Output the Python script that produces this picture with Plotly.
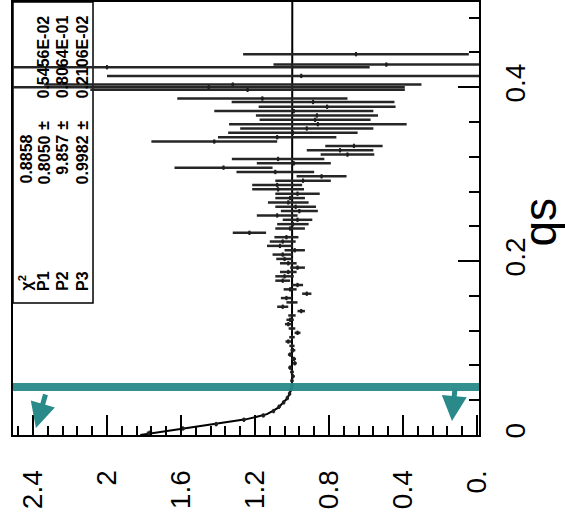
import plotly.graph_objects as go

# ---- data ----
qs = [0.438, 0.426, 0.423, 0.413, 0.403, 0.400, 0.397, 0.387, 0.383, 0.3775,
      0.3725, 0.3675, 0.3625, 0.3575, 0.3525, 0.3475, 0.3425, 0.3375, 0.3325, 0.3275,
      0.3225, 0.3175, 0.3125, 0.3075, 0.3025, 0.2975, 0.2925, 0.2875, 0.2825, 0.2775,
      0.2725, 0.2675, 0.2625, 0.2575, 0.2525, 0.2475, 0.2425, 0.2375, 0.2325, 0.2275,
      0.2225, 0.2175, 0.2125, 0.2075, 0.2025, 0.1975, 0.1925, 0.1875, 0.1825, 0.1775,
      0.1725, 0.1675, 0.1625, 0.1575, 0.1525, 0.1475, 0.1425, 0.1375, 0.1325, 0.1275,
      0.1225, 0.1175, 0.1125, 0.1075, 0.1025, 0.0975, 0.0925, 0.0875, 0.0825, 0.0775,
      0.0725, 0.0675, 0.0625, 0.0575, 0.0525, 0.0475, 0.0425, 0.0375, 0.0325, 0.0275,
      0.0225, 0.0175, 0.0125, 0.0075, 0.0025]
ratio = [0.654, 0.49, 2.00, 0.95, 1.32, 1.45, 1.24, 1.16, 0.886, 0.81,
         0.99, 0.865, 0.875, 0.86, 0.92, 0.995, 1.08, 1.42, 0.665, 0.74,
         0.70, 1.075, 0.99, 1.37, 1.09, 0.84, 0.94, 1.08, 1.075, 0.97,
         1.01, 1.02, 0.98, 0.96, 1.08, 0.97, 0.995, 1.01, 1.23, 1.03,
         1.05, 1.065, 0.985, 1.05, 1.04, 1.02, 0.97, 1.02, 1.04, 1.05,
         0.97, 1.01, 0.92, 1.03, 1.00, 1.05, 0.95, 1.00, 1.01, 1.02,
         1.00, 0.97, 1.00, 1.02, 1.00, 0.995, 1.01, 0.99, 0.985, 1.01,
         1.00, 0.995, 1.00, 1.00, 1.005, 1.013, 1.025, 1.045, 1.07, 1.10,
         1.155, 1.26, 1.41, 1.59, 1.77]
ratio_err = [0.61, 0.61, 1.42, 1.05, 1.02, 1.06, 0.85, 0.46, 0.44, 0.37,
             0.43, 0.33, 0.30, 0.48, 0.36, 0.35, 0.32, 0.34, 0.155, 0.18,
             0.145, 0.25, 0.20, 0.265, 0.21, 0.135, 0.15, 0.135, 0.14, 0.12,
             0.08, 0.11, 0.11, 0.10, 0.11, 0.08, 0.085, 0.08, 0.09, 0.065,
             0.07, 0.07, 0.055, 0.055, 0.045, 0.045, 0.04, 0.045, 0.05, 0.04,
             0.03, 0.035, 0.025, 0.03, 0.03, 0.03, 0.02, 0.02, 0.02, 0.018,
             0.018, 0.016, 0.015, 0.015, 0.014, 0.013, 0.012, 0.012, 0.011, 0.01,
             0.01, 0.01, 0.009, 0.009, 0.009, 0.009, 0.009, 0.009, 0.009, 0.009,
             0.01, 0.01, 0.01, 0.012, 0.015]
qs_halfbin = 0.0025

fit_qs = [0.0, 0.0035, 0.007, 0.0105, 0.015, 0.018, 0.021, 0.024, 0.028, 0.032,
          0.037, 0.041, 0.046, 0.051, 0.055, 0.498]
fit_ratio = [1.82, 1.71, 1.61, 1.48, 1.35, 1.25, 1.19, 1.135, 1.10, 1.07,
             1.05, 1.03, 1.016, 1.005, 1.0, 0.9982]

ratio_ticks = [0, 0.4, 0.8, 1.2, 1.6, 2.0, 2.4]
ratio_tick_text = ["0.", "0.4", "0.8", "1.2", "1.6", "2", "2.4"]
qs_ticks = [0, 0.2, 0.4]
qs_tick_text = ["0", "0.2", "0.4"]

stat_labels = ["χ<sup>2</sup>", "P1", "P2", "P3"]
stat_values = ["0.8858", "0.8050", "9.857", "0.9982"]
stat_errors = ["", "0.5456E-02", "0.8064E-01", "0.2106E-02"]

cut_qs = 0.0552

TEAL = "#2a8a8a"
FONT = "Liberation Sans, Arial, sans-serif"

fig = go.Figure()

fig.add_trace(go.Scatter(
    x=fit_ratio, y=fit_qs, mode="lines",
    line=dict(color="black", width=2), hoverinfo="skip", showlegend=False))

fig.add_trace(go.Scatter(
    x=ratio, y=qs, mode="markers",
    marker=dict(color="#1e1e1e", size=3),
    error_x=dict(type="data", array=ratio_err, color="#262626", thickness=2.5, width=0),
    error_y=dict(type="constant", value=qs_halfbin, color="#1e1e1e", thickness=2, width=0),
    showlegend=False))

# stats box
fig.add_shape(type="rect", xref="paper", yref="paper",
              x0=0, x1=0.1717, y0=0.3048, y1=1.0,
              line=dict(color="black", width=1.5), fillcolor="white", layer="below")

row_x = [0.0279, 0.0665, 0.107, 0.150]
for i in range(4):
    fig.add_annotation(xref="paper", yref="paper", x=row_x[i], y=0.328,
                       text="<b>" + stat_labels[i] + "</b>", textangle=-90,
                       showarrow=False, xanchor="center", yanchor="bottom",
                       font=dict(family=FONT, size=16, color="black"))
    fig.add_annotation(xref="paper", yref="paper", x=row_x[i], y=0.6975,
                       text="<b>" + stat_values[i] + "</b>", textangle=-90,
                       showarrow=False, xanchor="center", yanchor="top",
                       font=dict(family=FONT, size=16, color="black"))
    if stat_errors[i]:
        fig.add_annotation(xref="paper", yref="paper", x=row_x[i], y=0.716,
                           text="<b>±</b>", textangle=-90,
                           showarrow=False, xanchor="center", yanchor="middle",
                           font=dict(family=FONT, size=16, color="black"))
        fig.add_annotation(xref="paper", yref="paper", x=row_x[i], y=0.9746,
                           text="<b>" + stat_errors[i] + "</b>", textangle=-90,
                           showarrow=False, xanchor="center", yanchor="top",
                           font=dict(family=FONT, size=16, color="black"))

# teal cut band
fig.add_shape(type="line", xref="paper", yref="y", x0=0, x1=1, y0=cut_qs, y1=cut_qs,
              line=dict(color=TEAL, width=8), opacity=0.95, layer="above")

# hand-drawn arrows
fig.add_annotation(x=2.384, y=0.008, xref="x", yref="y", ax=10, ay=-35,
                   showarrow=True, arrowhead=2, arrowsize=1, arrowwidth=5,
                   arrowcolor=TEAL, text="")
fig.add_annotation(x=0.135, y=0.016, xref="x", yref="y", ax=3, ay=-33,
                   showarrow=True, arrowhead=2, arrowsize=1, arrowwidth=5,
                   arrowcolor=TEAL, text="")

# axis title (rotated)
fig.add_annotation(xref="paper", yref="paper", x=1.13, y=0.492, text="qs",
                   textangle=-90, showarrow=False, xanchor="center", yanchor="middle",
                   font=dict(family=FONT, size=46, color="black"))

fig.update_layout(
    width=565, height=517,
    margin=dict(l=13, r=86, t=2, b=82, pad=0, autoexpand=False),
    paper_bgcolor="white", plot_bgcolor="white",
    showlegend=False,
    xaxis=dict(range=[2.508, -0.011], tickvals=ratio_ticks, ticktext=ratio_tick_text,
               automargin=False,
               ticks="inside", ticklen=20, tickwidth=2, tickcolor="black",
               showline=True, linewidth=2, linecolor="black", mirror=True,
               showgrid=False, zeroline=False, tickangle=-90,
               tickfont=dict(family=FONT, size=28, color="black"),
               ticklabelstandoff=22,
               minor=dict(dtick=0.08, tick0=0, ticks="inside", ticklen=9,
                          tickwidth=2, tickcolor="black", showgrid=False)),
    yaxis=dict(range=[0, 0.498], side="right", tickvals=qs_ticks, ticktext=qs_tick_text,
               automargin=False,
               ticks="inside", ticklen=21, tickwidth=2, tickcolor="black",
               showline=True, linewidth=2, linecolor="black", mirror=True,
               showgrid=False, zeroline=False, tickangle=-90,
               tickfont=dict(family=FONT, size=28, color="black"),
               ticklabelstandoff=10,
               minor=dict(dtick=0.04, tick0=0, ticks="inside", ticklen=10,
                          tickwidth=2, tickcolor="black", showgrid=False)),
)

fig.write_html("out.html", config={"displayModeBar": False},
               post_script="document.body.style.margin='0';document.body.style.overflow='hidden';")
